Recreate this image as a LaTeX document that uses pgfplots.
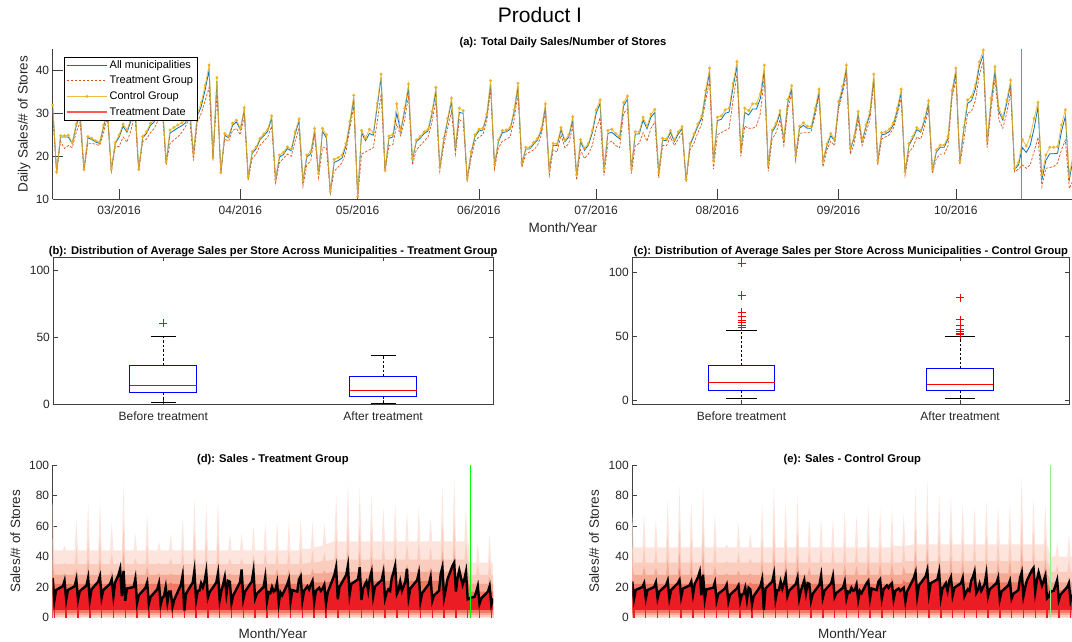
\documentclass[border=0pt]{standalone}
\usepackage{fontspec}
\setmainfont{Liberation Sans}
\usepackage{pgfplots}
\usepackage{pgfplotstable}
\pgfplotsset{compat=1.18}

\definecolor{mblue}{rgb}{0,0.447,0.741}
\definecolor{morange}{rgb}{0.85,0.325,0.098}
\definecolor{myellow}{rgb}{0.929,0.694,0.125}
\definecolor{tred}{rgb}{1,0.35,0.35}
\definecolor{axgray}{rgb}{0.25,0.25,0.25}
\definecolor{txgray}{rgb}{0.15,0.15,0.15}
\definecolor{fca}{RGB}{253,229,221}
\definecolor{fcb}{RGB}{250,205,190}
\definecolor{fcc}{RGB}{246,170,150}
\definecolor{fcd}{RGB}{241,120,100}
\definecolor{fce}{RGB}{236,28,36}
\definecolor{greenA}{rgb}{0,1,0}
\definecolor{greenB}{rgb}{0.55,0.95,0.55}

% daily series of panel (a): day (0 = 1 Mar 2016), control, all, treatment
\pgfplotstableread{
d c a t
-17 31.9 31.6 30.0
-16 16.4 16.3 16.0
-15 24.8 24.5 23.5
-14 24.8 24.5 21.8
-13 24.9 24.5 22.5
-12 23.2 23.0 22.0
-11 27.5 27.0 25.5
-10 30.5 30.0 28.0
-9 17.0 16.8 16.5
-8 24.6 24.3 23.0
-7 24.2 23.9 23.0
-6 23.6 23.3 22.8
-5 23.3 23.0 22.5
-4 27.2 26.8 25.5
-3 31.0 30.4 29.0
-2 17.0 16.8 16.6
-1 23.2 23.0 22.2
0 25.0 24.5 22.3
1 27.5 27.0 24.5
2 26.1 25.6 23.3
3 28.8 28.2 26.0
4 33.0 32.3 30.0
5 17.0 16.8 16.5
6 24.6 24.3 23.4
7 25.7 25.3 24.0
8 27.7 27.2 25.5
9 28.4 28.0 26.5
10 31.0 30.5 28.5
11 33.5 33.0 31.0
12 18.7 18.5 18.0
13 26.1 25.4 23.0
14 26.7 26.0 23.8
15 27.3 26.6 24.5
16 27.8 27.1 25.5
17 28.4 27.8 27.0
18 32.0 31.2 29.0
19 20.7 20.3 19.0
20 30.0 29.4 28.0
21 32.5 31.6 30.0
22 36.5 35.5 33.0
23 41.2 40.0 36.0
24 19.7 19.5 19.0
25 38.3 37.5 34.5
26 16.2 16.1 16.0
27 25.3 24.9 24.0
28 24.7 24.3 23.5
29 27.7 27.2 26.0
30 28.4 28.0 26.5
31 26.5 26.2 25.0
32 31.3 30.8 29.5
33 15.3 15.2 14.5
34 21.1 20.7 19.5
35 22.1 21.7 20.5
36 24.2 23.8 22.5
37 25.2 24.8 23.5
38 26.3 25.8 24.5
39 29.4 29.0 27.0
40 14.6 14.5 13.8
41 20.3 19.8 18.5
42 20.9 20.4 19.5
43 22.2 21.8 20.5
44 21.7 21.3 20.0
45 25.7 25.2 23.5
46 28.7 28.2 26.5
47 14.5 14.3 13.0
48 20.3 19.8 18.0
49 21.1 20.6 19.0
50 26.5 26.0 25.0
51 16.0 15.8 15.0
52 26.5 25.8 22.0
53 25.0 24.3 22.0
54 11.8 11.7 11.5
55 19.3 18.6 16.5
56 19.7 19.0 17.5
57 20.3 19.6 18.5
58 23.0 22.4 21.0
59 28.1 27.5 26.5
60 34.2 33.5 31.5
61 10.6 10.6 10.2
62 26.0 25.5 20.5
63 24.2 23.6 21.0
64 26.3 25.3 21.5
65 25.5 24.9 22.0
66 32.3 31.6 28.0
67 39.1 38.3 34.5
68 16.8 16.6 16.3
69 24.7 24.2 22.5
70 25.0 24.5 22.7
71 32.2 30.0 27.5
72 26.1 25.8 24.8
73 31.2 30.5 28.5
74 36.8 36.0 34.0
75 19.5 19.2 18.0
76 23.8 23.4 21.5
77 24.6 24.2 22.5
78 25.7 25.3 23.5
79 26.3 25.9 24.5
80 30.4 29.8 28.0
81 36.0 35.2 33.0
82 17.4 17.2 16.5
83 24.2 23.8 22.5
84 28.8 28.3 26.5
85 33.5 32.8 30.5
86 22.2 21.6 20.5
87 31.2 30.2 28.5
88 30.6 30.0 28.0
89 14.9 14.8 14.2
90 21.1 20.7 19.5
91 25.0 24.6 23.5
92 26.3 25.9 24.5
93 26.5 26.1 25.0
94 29.8 29.3 28.0
95 37.6 36.8 35.5
96 18.1 17.9 17.0
97 23.8 23.4 22.0
98 26.0 25.5 23.5
99 26.1 25.7 24.0
100 26.7 26.3 24.5
101 30.8 30.2 28.5
102 37.0 36.3 34.5
103 18.5 18.3 17.5
104 22.1 21.7 20.5
105 22.1 21.7 21.0
106 23.2 22.8 21.5
107 24.2 23.8 22.5
108 26.5 26.0 25.0
109 32.2 31.5 30.5
110 17.2 17.0 15.5
111 23.0 22.6 21.5
112 22.9 22.5 21.0
113 26.7 26.2 25.0
114 23.8 23.4 22.0
115 25.0 24.5 23.0
116 29.2 28.5 27.0
117 15.7 15.5 14.5
118 23.9 23.4 21.5
119 21.9 21.4 19.5
120 23.0 22.6 20.5
121 26.0 25.4 22.5
122 30.8 30.0 26.5
123 33.1 32.3 29.0
124 17.2 17.0 15.5
125 26.0 25.3 23.0
126 26.3 25.6 23.5
127 25.3 24.8 22.5
128 24.6 24.1 22.0
129 32.5 31.7 30.0
130 34.0 33.3 31.0
131 17.2 17.0 16.0
132 25.7 25.2 22.5
133 25.7 25.2 23.0
134 29.1 28.4 25.5
135 27.0 26.4 23.5
136 29.8 29.1 26.5
137 30.9 30.2 28.0
138 16.2 16.0 15.0
139 24.2 23.8 22.5
140 24.0 23.6 22.5
141 26.0 25.6 24.5
142 23.8 23.4 22.5
143 25.7 25.2 24.0
144 26.9 26.4 25.5
145 14.6 14.5 14.0
146 23.0 22.6 21.5
147 25.2 24.8 23.0
148 27.5 27.0 25.5
149 29.4 28.9 27.5
150 35.3 34.6 33.0
151 40.5 39.6 37.5
152 19.0 18.8 17.0
153 29.1 28.3 25.0
154 29.4 28.6 25.5
155 30.8 30.0 26.0
156 31.2 30.3 26.5
157 37.0 36.0 33.0
158 42.0 41.0 39.0
159 21.5 21.2 20.0
160 31.2 30.2 27.0
161 30.6 29.6 26.5
162 32.2 31.0 26.5
163 32.2 31.0 27.0
164 34.6 33.5 30.0
165 41.2 40.0 38.5
166 18.0 17.8 16.5
167 26.1 25.6 24.0
168 27.7 27.2 25.5
169 30.6 30.0 28.5
170 24.2 23.8 22.5
171 33.2 32.5 31.0
172 36.4 35.6 34.5
173 20.1 19.9 19.0
174 27.0 26.5 25.3
175 27.8 27.2 25.5
176 27.0 26.5 25.5
177 27.0 26.5 25.7
178 31.2 30.5 29.5
179 35.6 34.8 34.0
180 19.0 18.8 17.5
181 22.9 22.4 21.5
182 25.3 24.8 23.5
183 23.9 23.5 22.5
184 32.7 32.0 31.0
185 36.2 35.5 34.5
186 41.2 40.3 39.0
187 21.9 21.6 20.5
188 24.7 24.3 23.0
189 30.4 29.8 28.5
190 23.8 23.4 22.5
191 27.3 26.8 25.5
192 30.4 29.8 28.5
193 39.1 38.3 37.0
194 19.1 18.9 18.0
195 25.5 25.0 24.0
196 25.7 25.2 24.5
197 26.3 25.8 25.0
198 27.8 27.3 26.5
199 31.2 30.6 29.5
200 35.6 34.8 33.5
201 16.4 16.2 15.5
202 23.0 22.6 21.0
203 24.6 24.2 22.0
204 26.7 26.2 24.5
205 26.0 25.6 24.0
206 28.8 28.3 27.0
207 32.9 32.2 31.0
208 17.0 16.8 16.0
209 21.5 21.0 19.5
210 22.6 22.1 20.5
211 22.6 22.1 20.5
212 24.6 24.1 22.5
213 35.3 34.6 33.5
214 40.5 39.6 38.0
215 19.0 18.8 18.0
216 26.7 26.0 23.5
217 33.1 32.3 30.0
218 33.9 33.0 30.5
219 36.6 35.7 33.0
220 42.0 41.0 39.0
221 44.7 43.6 42.0
222 23.6 23.2 22.0
223 33.5 32.6 31.0
224 40.8 39.8 38.0
225 31.2 30.4 28.5
226 29.1 28.4 26.5
227 33.1 32.3 30.0
228 37.7 36.8 35.0
229 17.2 16.9 16.4
230 18.5 18.0 17.0
231 23.9 22.0 18.0
232 22.4 20.9 17.2
233 24.6 22.5 18.0
234 28.8 26.5 21.1
235 32.5 31.5 24.4
236 15.7 14.6 12.9
237 20.3 19.0 17.2
238 22.1 20.6 17.4
239 22.1 20.6 17.6
240 22.2 20.7 18.4
241 27.3 25.8 21.5
242 30.8 29.3 23.8
243 15.4 14.6 12.5
244 20.7 19.5 14.5
}\topdata

% mean lines of panels (d) and (e)
\pgfplotstableread{
d bd be
-17 26 23.5
-16 11 12
-15 18 18
-11 20.5 20
-10 24 22.5
-9 11.5 12.5
-8 18 18
-4 20.5 20
-3 25 23
-2 11.6 12.5
-1 17.2 17
3 21 21
4 26 24
5 11.5 12.5
6 18.4 18
10 23.5 22.5
11 27 24.5
12 13 13.5
13 18 19
17 22 21
18 25 23.5
19 14 15
20 23 22
22 28 26.5
23 32 30
24 14 14.5
25 30.5 28
26 11 12
27 19 18.5
31 20 19.5
32 25.5 23
33 9.5 11
34 14.5 15.5
38 19.5 19
39 23 21.5
40 9 10.5
41 13.5 15
45 18.5 19
46 22.5 21
47 8.5 10.5
48 13 15
49 14 15.5
50 20 19.5
51 10 11.5
52 17 19.5
53 17 18.5
54 7 8.5
55 11.5 14
59 21.5 20.5
60 27.5 25
61 4.5 5
62 15.5 19
66 23 23.5
67 30.5 28.5
68 11.3 12
69 17.5 18
70 17.7 18
71 22.5 23.5
72 19.8 19
73 23.5 22.5
74 30 27
75 13 14
76 16.5 17.5
80 23 22
81 29 26
82 11.5 12.5
83 17.5 17.5
84 21.5 21
85 26.5 24.5
86 15.5 16
87 24 22.5
88 23.5 22
89 9.5 11
90 14.5 15.5
94 23 21.5
95 31.5 27.5
96 12 13
97 17 17.5
101 23.5 22.5
102 30.5 27
103 12.5 13.5
104 15.5 16
108 20 19.5
109 26.5 23.5
110 10.5 12.5
111 16.5 17
112 16 16.5
113 20 19.5
114 17 17.5
115 18 18
116 23 21.5
117 9.5 11.5
118 16.5 17.5
119 14.5 16
122 21.5 22.5
123 25 24
124 10.5 12.5
125 18 19
128 17 18
129 25 23.5
130 27 25
131 11 12.5
132 17.5 18.5
134 20.5 21
135 18.5 19.5
136 21.5 21.5
137 24 22.5
138 10 12
139 17.5 17.5
141 19.5 19
142 17.5 17.5
143 19 18.5
144 21.5 19.5
145 9 10.5
146 16.5 17
150 28 26
151 33 29.5
152 12 14
153 20 21
157 28 27
158 34 31
159 15 15.5
160 22 22.5
164 25 25
165 33 30
166 11.5 13
167 19 19
169 23.5 22.5
170 17.5 17.5
171 26 24
172 30 26.5
173 14 14.5
174 20.3 19.5
178 24.5 22.5
179 29.5 26
180 12.5 14
181 16.5 16.5
182 18.5 18.5
183 17.5 17.5
184 26 24
185 29.5 26.5
186 34 30
187 15.5 16
188 18 18
189 23.5 22
190 17.5 17.5
192 23.5 22
193 32 28.5
194 13 14
195 19 18.5
199 24.5 22.5
200 29 26
201 10.5 12
202 16 17
206 22 21
207 26.5 24
208 11 12.5
209 14.5 15.5
212 17.5 18
213 28.5 26
214 33 29.5
215 13 14
216 18.5 19.5
217 25 24
220 34 31
221 36 32.5
222 17 17
223 26 24.5
224 31 29.5
226 21.5 21
227 25 24
228 30 27.5
229 12 12.5
230 12.5 13.5
231 13 17
233 13.5 17.5
234 16.5 21
235 20.5 24.5
236 9 11.5
237 12.5 15
241 17 20
242 20.5 22.5
243 8.5 11
244 12.5 15
}\blk

% trough days of the mean lines
\pgfplotstableread{
d bd be
-16 11 12
-9 11.5 12.5
-2 11.6 12.5
5 11.5 12.5
12 13 13.5
19 14 15
26 11 12
33 9.5 11
40 9 10.5
47 8.5 10.5
54 7 8.5
61 4.5 5
68 11.3 12
75 13 14
82 11.5 12.5
89 9.5 11
96 12 13
103 12.5 13.5
110 10.5 12.5
117 9.5 11.5
124 10.5 12.5
131 11 12.5
138 10 12
145 9 10.5
152 12 14
159 15 15.5
166 11.5 13
173 14 14.5
180 12.5 14
187 15.5 16
194 13 14
201 10.5 12
208 11 12.5
215 13 14
222 17 17
229 12 12.5
236 9 11.5
243 8.5 11
}\trough

% upper percentile bands of panels (d) and (e)
\pgfplotstableread{
d ua ub uc ud va vb vc vd
-17 75 52 38 28 68 48 34 25
-16 44 35 28 22 46 36 28 22
-11 44 35 28 22 46 36 28 22
-10 47 36 29 23 68 48 34 25
-9 44 35 28 22 46 36 28 22
-4 44 35 28 22 46 36 28 22
-3 65 46 32 24 65 46 33 24
-2 44 35 28 22 46 36 28 22
3 44 35 28 22 46 36 28 22
4 75 52 38 28 77 54 38 28
5 44 35 28 22 46 36 28 22
10 44 35 28 22 46 36 28 22
11 77 54 38 28 86 60 43 32
12 44 35 28 22 46 36 28 22
17 44 35 28 22 46 36 28 22
18 62 43 31 23 75 52 38 28
19 44 35 28 22 46 36 28 22
24 44 35 28 22 46 36 28 22
25 87 61 43 32 87 61 44 32
26 44 35 28 22 46 36 28 22
31 44 35 28 22 46 36 28 22
32 55 39 29 23 68 48 34 25
33 44 35 28 22 46 36 28 22
38 44 35 28 22 46 36 28 22
39 68 48 34 25 48 37 29 23
40 44 35 28 22 46 36 28 22
45 44 35 28 22 46 36 28 22
46 50 36 29 23 62 43 31 23
47 44 35 28 22 46 36 28 22
52 44 35 28 22 46 36 28 22
53 55 39 29 23 55 39 29 23
54 44 35 28 22 46 36 28 22
59 44 35 28 22 46 36 28 22
60 65 46 32 24 75 52 38 28
61 44 35 28 22 46 36 28 22
66 44 35 28 22 46 36 28 22
67 78 55 39 29 87 61 44 32
68 44 35 28 22 46 36 28 22
73 44 35 28 22 46 36 28 22
74 75 52 38 28 75 52 38 28
75 44 35 28 22 46 36 28 22
80 44 35 28 22 46 36 28 22
81 77 54 38 28 80 56 40 30
82 44 35 28 22 46 36 28 22
87 44 35 28 22 46 36 28 22
88 55 39 29 23 65 46 33 24
89 44 35 28 22 46 36 28 22
94 44 35 28 22 46 36 28 22
95 55 39 29 23 65 46 33 24
96 44 35 28 22 46 36 28 22
101 44 35 28 22 46 36 28 22
102 60 42 30 23 65 46 33 24
103 44 35 28 22 46 36 28 22
108 44 35 28 22 46 36 28 22
109 62 43 31 23 70 49 35 26
110 44 35 28 22 46 36 28 22
115 44 35 28 22 46 36 28 22
116 63 44 32 23 67 47 34 25
117 44 35 28 22 46 36 28 22
122 44 35 28 22 46 36 28 22
123 64 45 32 24 73 51 37 27
124 44 35 28 22 46 36 28 22
129 44 35 28 22 46 36 28 22
130 65 46 32 24 72 50 36 27
131 45 35 28 22 46 36 28 22
136 45 36 28 22 46 36 28 22
137 63 44 32 23 72 50 36 27
138 46 36 29 23 47 36 28 22
143 47 37 29 23 47 36 28 22
144 62 43 31 23 68 48 34 25
145 48 37 29 23 47 37 29 23
150 50 38 30 24 48 37 29 23
151 82 57 41 30 85 60 43 31
152 50 38 30 24 48 37 29 23
157 50 38 30 24 48 37 29 23
158 90 63 45 33 90 63 45 33
159 50 38 30 24 48 37 29 23
164 50 38 30 24 48 37 29 23
165 85 60 43 31 82 57 41 30
166 50 38 30 24 48 37 29 23
171 50 38 30 24 48 37 29 23
172 80 56 40 30 80 56 40 30
173 50 38 30 24 48 37 29 23
178 50 38 30 24 48 37 29 23
179 72 50 36 27 75 52 38 28
180 50 38 30 24 48 37 29 23
185 50 38 30 24 48 37 29 23
186 75 52 38 28 72 50 36 27
187 50 38 30 24 48 37 29 23
192 50 38 30 24 48 37 29 23
193 70 49 35 26 77 54 38 28
194 50 38 30 24 48 37 29 23
199 50 38 30 24 48 37 29 23
200 72 50 36 27 73 51 37 27
201 50 38 30 24 48 37 29 23
206 50 38 30 24 48 37 29 23
207 65 46 33 25 75 52 38 28
208 50 38 30 24 48 37 29 23
213 50 38 30 24 48 37 29 23
214 87 61 44 32 92 64 46 34
215 50 38 30 24 48 37 29 23
220 50 38 30 24 48 37 29 23
221 92 64 46 34 78 55 39 29
222 50 38 30 24 48 37 29 23
227 50 38 30 24 48 37 29 23
228 72 50 36 27 75 52 38 28
229 50 38 30 24 48 37 29 23
230 45 35 27 21 45 35 27 21
231 36 28 22 17 40 30 23 18
234 36 28 22 17 40 30 23 18
235 50 35 25 19 50 35 25 19
236 36 28 22 17 40 30 23 18
241 36 28 22 17 40 30 23 18
242 55 38 27 20 55 38 27 20
243 36 28 22 17 40 30 23 18
244 36 28 22 17 40 30 23 18
}\band

\pgfplotsset{
  mystyle/.style={
    scale only axis,
    anchor=south west,
    tick align=inside,
    axis line style={-, axgray, line width=0.5pt},
    tick style={axgray, line width=0.5pt},
    tick label style={font=\fontsize{12}{14}\selectfont, text=txgray},
    label style={font=\fontsize{13.5}{16}\selectfont, text=txgray},
    every axis title/.style={at={(0.5,1)}, anchor=center, font=\bfseries\fontsize{11.2}{13}\selectfont, text=black},
    /pgf/number format/assume math mode=true,
  },
}

\begin{document}
\begin{tikzpicture}[x=1pt,y=1pt]
\useasboundingbox (0,0) rectangle (1072,641);
\node[font=\fontsize{21}{24}\selectfont, text=black] at (540,626) {Product I};

% ---------------- (a)
\begin{axis}[mystyle,
  at={(52.7pt,441.7pt)}, width=1020.5pt, height=150.5pt,
  xmin=-17, xmax=244, ymin=10, ymax=45,
  axis x line*=bottom, axis y line*=left,
  xtick={0,31,61,92,122,153,184,214},
  xticklabels={03/2016,04/2016,05/2016,06/2016,07/2016,08/2016,09/2016,10/2016},
  xticklabel style={yshift=-3pt},
  ytick={10,20,30,40},
  major tick length=10pt,
  xlabel={Month/Year}, ylabel={Daily Sales/\# of Stores},
  xlabel style={at={(axis description cs:0.5,-0.19)}, anchor=center},
  ylabel style={at={(axis description cs:-0.028,0.5)}, anchor=center},
  title={(a): Total Daily Sales/Number of Stores},
  title style={at={(axis description cs:0.5,1.0385)}},
  legend style={at={(0.011,0.9475)}, anchor=north west,
    font=\fontsize{11}{13}\selectfont, line width=0.5pt,
    inner xsep=2pt, inner ysep=1.5pt, row sep=2.3pt},
  legend cell align=left,
  legend image code/.code={\draw[mark repeat=2,mark phase=2,#1] plot coordinates {(0pt,0pt) (20pt,0pt) (40pt,0pt)};},
]
\addplot[draw=mblue, line width=0.8pt] table[x=d,y=a]{\topdata};
\addlegendentry{All municipalities}
\addplot[draw=morange, line width=0.7pt, dash pattern=on 2.5pt off 1.5pt] table[x=d,y=t]{\topdata};
\addlegendentry{Treatment Group}
\addplot[draw=myellow, line width=0.8pt, draw opacity=0.85, mark=*, mark size=1.1pt, mark options={fill=myellow, draw=myellow, solid}] table[x=d,y=c]{\topdata};
\addlegendentry{Control Group}
\addplot[draw=tred, line width=1.5pt] coordinates {(230.8,10) (230.8,45)};
\addlegendentry{Treatment Date}
\end{axis}

% ---------------- (b)
\begin{axis}[mystyle,
  at={(53.4pt,237pt)}, width=439.6pt, height=147pt,
  xmin=0.5, xmax=2.5, ymin=0, ymax=110,
  xtick={1,2}, xticklabels={Before treatment, After treatment},
  xticklabel style={yshift=-4pt},
  ytick={0,50,100}, major tick length=4.4pt,
  title={(b): Distribution of Average Sales per Store Across Municipalities - Treatment Group},
  title style={at={(axis description cs:0.5,1.034)}},
]
\addplot[draw=black, line width=0.6pt, dash pattern=on 2.5pt off 2pt] coordinates {(1,29.0) (1,50.4)};
\addplot[draw=black, line width=0.6pt, dash pattern=on 2.5pt off 2pt] coordinates {(1,8.4) (1,1.3)};
\addplot[draw=black, line width=0.6pt] coordinates {(0.943,50.4) (1.057,50.4)};
\addplot[draw=black, line width=0.6pt] coordinates {(0.943,1.3) (1.057,1.3)};
\addplot[draw=blue, line width=0.9pt] coordinates {(0.848,8.4) (1.152,8.4) (1.152,29.0) (0.848,29.0) (0.848,8.4)};
\addplot[draw=red, line width=0.9pt] coordinates {(0.848,14.0) (1.152,14.0)};
\addplot[only marks, mark=+, mark size=4pt, draw=red, mark options={draw=red, line width=1pt}] coordinates {(1,60.3)};
\addplot[draw=black, line width=0.6pt, dash pattern=on 2.5pt off 2pt] coordinates {(2,20.4) (2,36.4)};
\addplot[draw=black, line width=0.6pt, dash pattern=on 2.5pt off 2pt] coordinates {(2,5.6) (2,0.5)};
\addplot[draw=black, line width=0.6pt] coordinates {(1.943,36.4) (2.057,36.4)};
\addplot[draw=black, line width=0.6pt] coordinates {(1.943,0.5) (2.057,0.5)};
\addplot[draw=blue, line width=0.9pt] coordinates {(1.848,5.6) (2.152,5.6) (2.152,20.4) (1.848,20.4) (1.848,5.6)};
\addplot[draw=red, line width=0.9pt] coordinates {(1.848,10.4) (2.152,10.4)};
\end{axis}

% ---------------- (c)
\begin{axis}[mystyle,
  at={(632.3pt,237pt)}, width=437.1pt, height=147pt,
  xmin=0.5, xmax=2.5, ymin=-3.2, ymax=112,
  xtick={1,2}, xticklabels={Before treatment, After treatment},
  xticklabel style={yshift=-4pt},
  ytick={0,50,100}, major tick length=4.4pt,
  title={(c): Distribution of Average Sales per Store Across Municipalities - Control Group},
  title style={at={(axis description cs:0.5,1.034)}},
]
\addplot[draw=black, line width=0.6pt, dash pattern=on 2.5pt off 2pt] coordinates {(1,26.7) (1,54.7)};
\addplot[draw=black, line width=0.6pt, dash pattern=on 2.5pt off 2pt] coordinates {(1,7.7) (1,1.6)};
\addplot[draw=black, line width=0.6pt] coordinates {(0.93,54.7) (1.07,54.7)};
\addplot[draw=black, line width=0.6pt] coordinates {(0.93,1.6) (1.07,1.6)};
\addplot[draw=blue, line width=0.9pt] coordinates {(0.848,7.7) (1.152,7.7) (1.152,26.7) (0.848,26.7) (0.848,7.7)};
\addplot[draw=red, line width=0.9pt] coordinates {(0.848,13.6) (1.152,13.6)};
\addplot[only marks, mark=+, mark size=4pt, draw=red, mark options={draw=red, line width=1pt}] coordinates {(1,107) (1,82.1) (1,81.6) (1,68.8) (1,65.6) (1,62.1) (1,60.8) (1,58.7) (1,56.8)};
\addplot[draw=black, line width=0.6pt, dash pattern=on 2.5pt off 2pt] coordinates {(2,24.5) (2,50.1)};
\addplot[draw=black, line width=0.6pt, dash pattern=on 2.5pt off 2pt] coordinates {(2,7.2) (2,1.6)};
\addplot[draw=black, line width=0.6pt] coordinates {(1.93,50.1) (2.07,50.1)};
\addplot[draw=black, line width=0.6pt] coordinates {(1.93,1.6) (2.07,1.6)};
\addplot[draw=blue, line width=0.9pt] coordinates {(1.848,7.2) (2.152,7.2) (2.152,24.5) (1.848,24.5) (1.848,7.2)};
\addplot[draw=red, line width=0.9pt] coordinates {(1.848,12.5) (2.152,12.5)};
\addplot[only marks, mark=+, mark size=4pt, draw=red, mark options={draw=red, line width=1pt}] coordinates {(2,80) (2,62.7) (2,58.1) (2,54.9) (2,53.6) (2,52.3) (2,50.9)};
\end{axis}

% ---------------- (d)
\begin{axis}[mystyle,
  at={(52.7pt,23.5pt)}, width=440.3pt, height=152.5pt,
  xmin=-17, xmax=244, ymin=0, ymax=100,
  axis x line*=bottom, axis y line*=left,
  xtick=\empty, ytick={0,20,40,60,80,100}, major tick length=4.4pt,
  xlabel={Month/Year}, ylabel={Sales/\# of Stores},
  xlabel style={at={(axis description cs:0.5,-0.105)}, anchor=center},
  ylabel style={at={(axis description cs:-0.085,0.5)}, anchor=center},
  title={(d): Sales - Treatment Group},
  title style={at={(axis description cs:0.5,1.033)}},
]
\addplot[draw=none, fill=fca] table[x=d,y=ua]{\band} \closedcycle;
\addplot[draw=none, fill=fcb] table[x=d,y=ub]{\band} \closedcycle;
\addplot[draw=none, fill=fcc] table[x=d,y=uc]{\band} \closedcycle;
\addplot[draw=none, fill=fcd] table[x=d,y=ud]{\band} \closedcycle;
\addplot[draw=none, fill=fce] table[x=d,y=bd]{\blk} \closedcycle;
\addplot[draw=none, fill=fcd] coordinates {(-17,5) (244,5)} \closedcycle;
\addplot[draw=none, fill=fcc] coordinates {(-17,3) (244,3)} \closedcycle;
\addplot[draw=none, fill=fcb] coordinates {(-17,1.5) (244,1.5)} \closedcycle;
\addplot[draw=none, fill=fca] coordinates {(-17,0.6) (244,0.6)} \closedcycle;
\addplot[ycomb, draw=fce, line width=1.4pt] table[x=d,y=bd]{\trough};
\addplot[draw=black, line width=2.4pt] table[x=d,y=bd]{\blk};
\addplot[draw=greenA, line width=0.9pt] coordinates {(230.8,0) (230.8,100)};
\end{axis}

% ---------------- (e)
\begin{axis}[mystyle,
  at={(632.3pt,23.5pt)}, width=440pt, height=152.5pt,
  xmin=-17, xmax=244, ymin=0, ymax=100,
  axis x line*=bottom, axis y line*=left,
  xtick=\empty, ytick={0,20,40,60,80,100}, major tick length=4.4pt,
  xlabel={Month/Year}, ylabel={Sales/\# of Stores},
  xlabel style={at={(axis description cs:0.5,-0.105)}, anchor=center},
  ylabel style={at={(axis description cs:-0.087,0.5)}, anchor=center},
  title={(e): Sales - Control Group},
  title style={at={(axis description cs:0.5,1.033)}},
]
\addplot[draw=none, fill=fca] table[x=d,y=va]{\band} \closedcycle;
\addplot[draw=none, fill=fcb] table[x=d,y=vb]{\band} \closedcycle;
\addplot[draw=none, fill=fcc] table[x=d,y=vc]{\band} \closedcycle;
\addplot[draw=none, fill=fcd] table[x=d,y=vd]{\band} \closedcycle;
\addplot[draw=none, fill=fce] table[x=d,y=be]{\blk} \closedcycle;
\addplot[draw=none, fill=fcd] coordinates {(-17,5) (244,5)} \closedcycle;
\addplot[draw=none, fill=fcc] coordinates {(-17,3) (244,3)} \closedcycle;
\addplot[draw=none, fill=fcb] coordinates {(-17,1.5) (244,1.5)} \closedcycle;
\addplot[draw=none, fill=fca] coordinates {(-17,0.6) (244,0.6)} \closedcycle;
\addplot[ycomb, draw=fce, line width=1.4pt] table[x=d,y=be]{\trough};
\addplot[draw=black, line width=2.4pt] table[x=d,y=be]{\blk};
\addplot[draw=greenB, line width=1.1pt] coordinates {(230.8,0) (230.8,100)};
\end{axis}
\end{tikzpicture}
\end{document}
